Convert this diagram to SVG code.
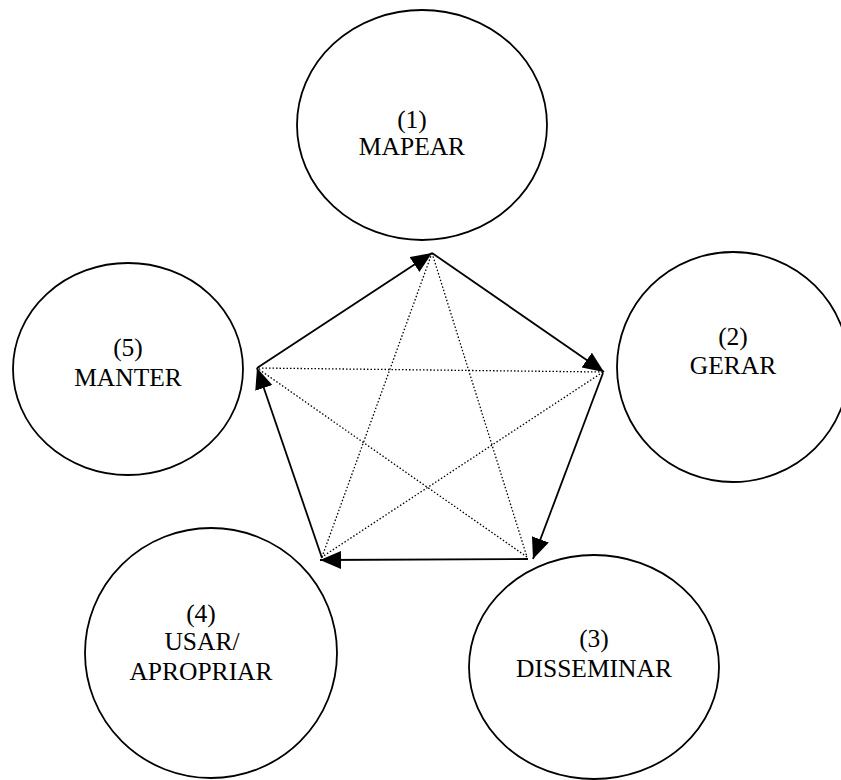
<svg xmlns="http://www.w3.org/2000/svg" width="841" height="780" viewBox="0 0 841 780">
<style>
.node ellipse{fill:none;stroke:#000;stroke-width:1.8}
.node text{font-family:"Liberation Serif","Times New Roman",serif;font-size:25.5px;fill:#000;text-anchor:middle}
.solid{stroke:#000;stroke-width:1.8;fill:none}
.dot{stroke:#000;stroke-width:1.3;stroke-dasharray:1.5 2;fill:none}
</style>
<defs>
<marker id="ah" markerUnits="userSpaceOnUse" markerWidth="24" markerHeight="20" refX="21" refY="9" orient="auto">
<path d="M0,0 L21,9 L0,18 Z" fill="#000"/>
</marker>
</defs>
<rect width="841" height="780" fill="#fff"/>
<g id="n1" class="node">
<ellipse cx="422" cy="125" rx="125" ry="115"/>
<text x="412" y="128">(1)</text>
<text x="412" y="155">MAPEAR</text>
</g>
<g id="n2" class="node">
<ellipse cx="733" cy="367" rx="116" ry="115"/>
<text x="733" y="345">(2)</text>
<text x="733" y="374">GERAR</text>
</g>
<g id="n3" class="node">
<ellipse cx="594" cy="667" rx="125" ry="112"/>
<text x="594" y="647">(3)</text>
<text x="594" y="677">DISSEMINAR</text>
</g>
<g id="n4" class="node">
<ellipse cx="211" cy="653" rx="126" ry="125"/>
<text x="201" y="622">(4)</text>
<text x="202" y="650">USAR/</text>
<text x="201" y="680">APROPRIAR</text>
</g>
<g id="n5" class="node">
<ellipse cx="128" cy="369" rx="115" ry="106"/>
<text x="128" y="356">(5)</text>
<text x="128" y="386">MANTER</text>
</g>
<g id="connectors">
<line class="dot" x1="432" y1="253" x2="527" y2="557"/>
<line class="dot" x1="432" y1="253" x2="322" y2="557"/>
<line class="dot" x1="603" y1="372" x2="322" y2="557"/>
<line class="dot" x1="603" y1="372" x2="257" y2="368"/>
<line class="dot" x1="527" y1="557" x2="257" y2="368"/>
<line class="solid" x1="257" y1="368" x2="432" y2="253" marker-end="url(#ah)"/>
<line class="solid" x1="432" y1="253" x2="604" y2="372" marker-end="url(#ah)"/>
<line class="solid" x1="603" y1="373" x2="533" y2="559" marker-end="url(#ah)"/>
<line class="solid" x1="528" y1="559" x2="320" y2="560" marker-end="url(#ah)"/>
<line class="solid" x1="322" y1="558" x2="257" y2="368" marker-end="url(#ah)"/>
</g>
</svg>
